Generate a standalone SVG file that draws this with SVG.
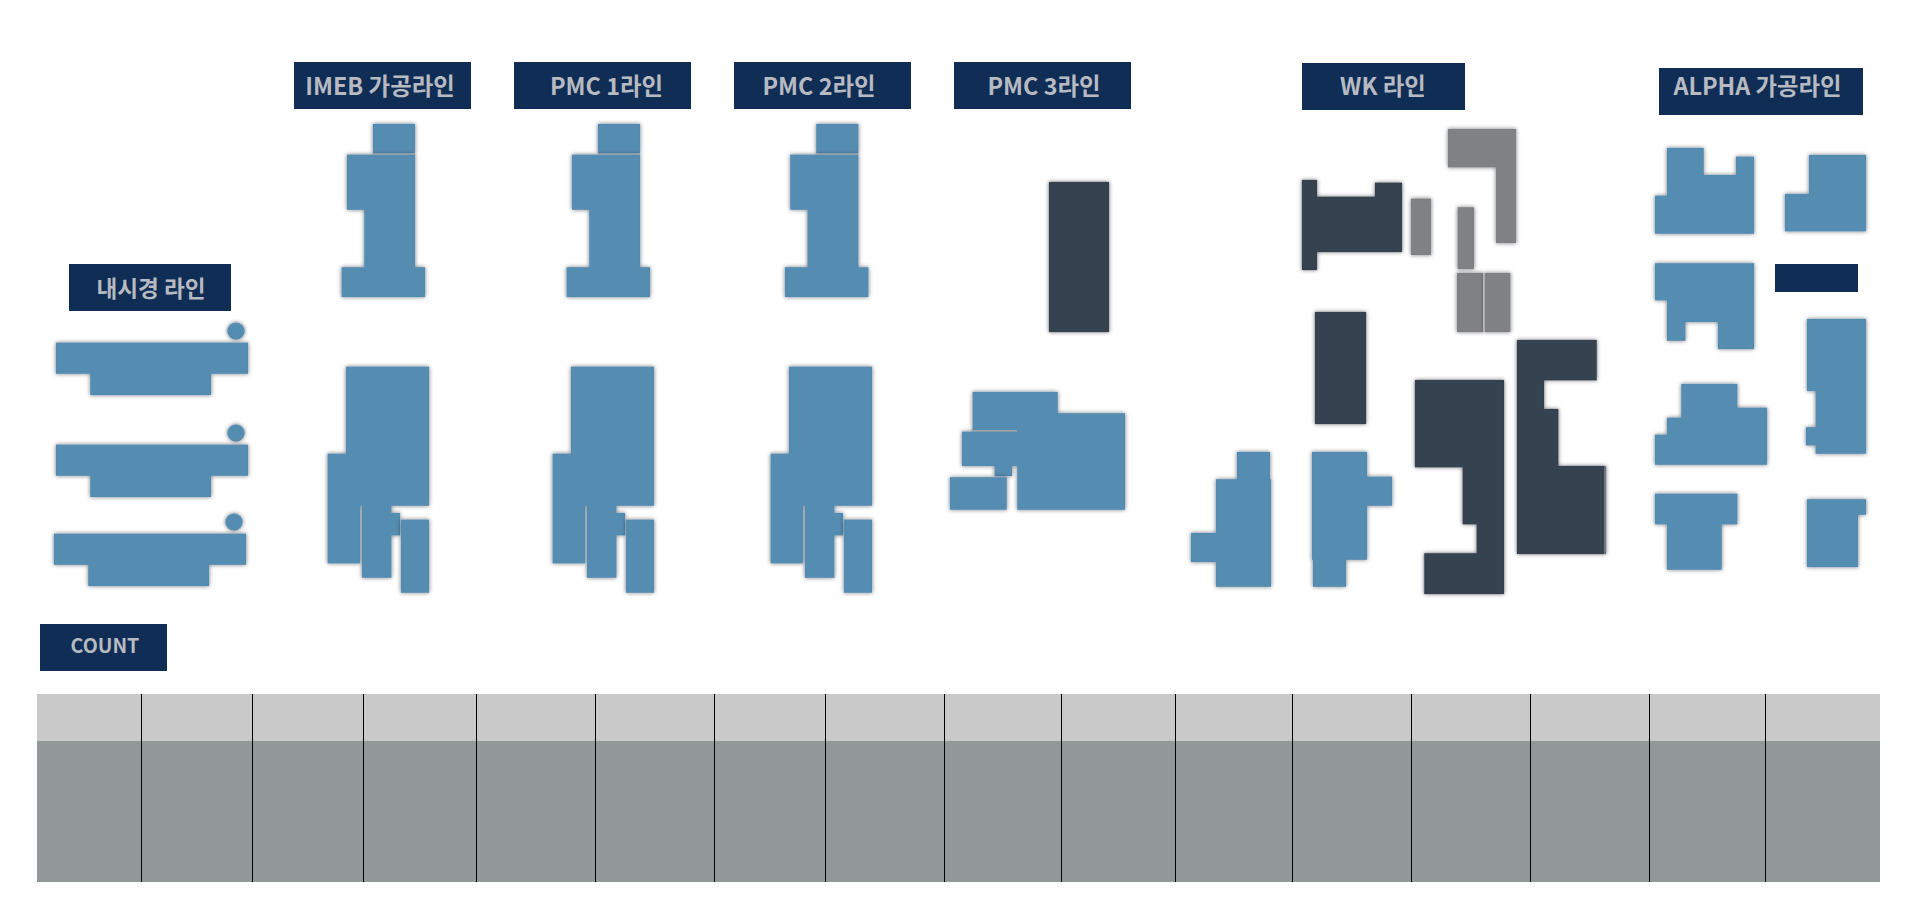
<svg xmlns="http://www.w3.org/2000/svg" width="1920" height="900" viewBox="0 0 1920 900">
<style>
.label{fill:#0f2d55}
.t{fill:#b7bbc1;font-family:"Noto Sans CJK KR","Noto Sans",sans-serif;font-weight:700;font-size:23.4px;text-anchor:middle}
.c{font-size:19.6px}
.n{font-size:22.6px}
.b{fill:#548cb1;stroke:#548cb1;stroke-width:.2;stroke-linejoin:round;filter:url(#s)}
.d{fill:#364250;stroke:#364250;stroke-width:.2;stroke-linejoin:round;filter:url(#s)}
.g{fill:#808183;stroke:#808183;stroke-width:.2;stroke-linejoin:round;filter:url(#s)}
.h{fill:#c9c9c9}
.m{fill:#929898}
.l{stroke:#000;stroke-width:1;fill:none}
</style>
<defs>
<filter id="s" x="-20%" y="-20%" width="140%" height="140%"><feDropShadow dx="0" dy="0" stdDeviation="2" flood-color="#000" flood-opacity="0.55"/></filter>
<g id="endo">
<circle class="b" cx="236" cy="331" r="8.6"/>
<polygon class="b" points="56,342.7 248,342.7 248,373.7 211,373.7 211,395 90.3,395 90.3,373.7 56,373.7"/>
</g>
<g id="upper">
<rect class="b" x="373" y="124" width="42" height="29.3"/>
<polygon class="b" points="347,154.7 415,154.7 415,267.3 425,267.3 425,297 341.7,297 341.7,267.3 364.3,267.3 364.3,209.7 347,209.7"/>
<rect x="373" y="153.3" width="42" height="1.4" fill="#94a0aa"/>
</g>
<g id="lower">
<polygon class="b" points="346,366.7 429,366.7 429,505.7 391.3,505.7 391.3,513 400,513 400,535.3 391.3,535.3 391.3,577.7 362,577.7 362,505.7 360,505.7 360,563.3 327.7,563.3 327.7,453.7 346,453.7"/>
<rect class="b" x="401" y="519.7" width="28" height="73"/>
</g>
</defs>
<rect width="1920" height="900" fill="#fff"/>
<g id="line-endo">
<rect class="label" x="69" y="264" width="162" height="47"/><text class="t n" x="151" y="297">내시경 라인</text>
<use href="#endo"/><use href="#endo" y="102"/><use href="#endo" x="-2" y="191"/>
</g>
<g id="line-imeb">
<rect class="label" x="294" y="62" width="177" height="47"/><text class="t" x="380" y="95">IMEB 가공라인</text>
<use href="#upper"/><use href="#lower"/>
</g>
<g id="line-pmc1">
<rect class="label" x="514" y="62" width="177" height="47"/><text class="t" x="606.5" y="95">PMC 1라인</text>
<use href="#upper" x="225"/><use href="#lower" x="225"/>
</g>
<g id="line-pmc2">
<rect class="label" x="734" y="62" width="177" height="47"/><text class="t" x="819" y="95">PMC 2라인</text>
<use href="#upper" x="443.3"/><use href="#lower" x="443"/>
</g>
<g id="line-pmc3">
<rect class="label" x="954" y="62" width="177" height="47"/><text class="t" x="1044" y="95">PMC 3라인</text>
<rect class="d" x="1049" y="182" width="60" height="150"/>
<polygon class="b" points="972.7,392 1057.7,392 1057.7,413.3 1125,413.3 1125,509.7 1017.3,509.7 1017.3,466 1012,466 1012,476 994.7,476 994.7,466 962,466 962,431.7 972.7,431.7"/>
<rect x="972.7" y="430" width="44.6" height="1.6" fill="#a3a5a8"/>
<rect class="b" x="950" y="477.3" width="56.7" height="32.4"/>
</g>
<g id="line-wk">
<rect class="label" x="1302" y="63" width="163" height="47"/><text class="t" x="1383" y="95">WK 라인</text>
<polygon class="d" points="1302,180 1317,180 1317,196.7 1375,196.7 1375,182.7 1402,182.7 1402,252 1317,252 1317,270 1302,270"/>
<rect class="g" x="1411" y="198.7" width="20" height="56.3"/>
<polygon class="g" points="1448,129 1516,129 1516,243 1496,243 1496,167.3 1448,167.3"/>
<rect class="g" x="1457.7" y="207.3" width="16.3" height="61.7"/>
<rect class="g" x="1457" y="273" width="26" height="59"/>
<rect class="g" x="1484.7" y="273" width="25.6" height="59"/>
<rect x="1483" y="273" width="1.7" height="59" fill="#b4b5b7"/>
<rect class="d" x="1315" y="312" width="51" height="112"/>
<polygon class="b" points="1237,452 1270,452 1270,479.3 1271,479.3 1271,586.7 1216,586.7 1216,562 1191,562 1191,533 1216,533 1216,479.3 1237,479.3"/>
<polygon class="b" points="1312,452 1367,452 1367,476.7 1392,476.7 1392,505.7 1367,505.7 1367,559.7 1346,559.7 1346,586.7 1313,586.7 1313,559.7 1312,559.7"/>
<polygon class="d" points="1415,380 1504,380 1504,594 1424.3,594 1424.3,553.3 1476.7,553.3 1476.7,524.3 1462.7,524.3 1462.7,467.3 1415,467.3"/>
<polygon class="d" points="1517,340 1596.7,340 1596.7,380.3 1544,380.3 1544,409 1558.3,409 1558.3,466 1606,466 1606,554 1517,554"/>
<rect x="1604.6" y="466" width="0.8" height="88" fill="#c4c7cb"/>
</g>
<g id="line-alpha">
<rect class="label" x="1659" y="68" width="204" height="47"/><text class="t" x="1757.5" y="95">ALPHA 가공라인</text>
<polygon class="b" points="1667,148 1703.7,148 1703.7,175 1736,175 1736,156.7 1754,156.7 1754,233.7 1655,233.7 1655,195.7 1667,195.7"/>
<polygon class="b" points="1809,155 1866,155 1866,231.3 1785,231.3 1785,194 1809,194"/>
<polygon class="b" points="1655,263.3 1754,263.3 1754,349 1718,349 1718,322 1685.3,322 1685.3,340.7 1667,340.7 1667,300.3 1655,300.3"/>
<rect class="label" x="1775" y="264" width="83" height="28"/>
<polygon class="b" points="1807,319 1866,319 1866,453.7 1815.7,453.7 1815.7,445.3 1806,445.3 1806,427.3 1815.7,427.3 1815.7,391 1807,391"/>
<polygon class="b" points="1681.3,384 1737.3,384 1737.3,407.7 1767,407.7 1767,464.7 1655,464.7 1655,434.7 1667,434.7 1667,417.7 1681.3,417.7"/>
<polygon class="b" points="1655,493.7 1737.3,493.7 1737.3,524.3 1721.7,524.3 1721.7,569.7 1667,569.7 1667,524.3 1655,524.3"/>
<polygon class="b" points="1807,499.3 1866,499.3 1866,514.7 1858,514.7 1858,567 1807,567"/>
</g>
<g id="count">
<rect class="label" x="40" y="624" width="127" height="47"/><text class="t c" x="105" y="653">COUNT</text>
<rect class="h" x="37" y="694" width="1843" height="47"/>
<rect class="m" x="37" y="741" width="1843" height="141"/>
</g>
<g id="connectors">
<path class="l" d="M141.5 694V882M252.5 694V882M363.5 694V882M476.5 694V882M595.5 694V882M714.5 694V882M825.5 694V882M944.5 694V882M1061.5 694V882M1175.5 694V882M1292.5 694V882M1411.5 694V882M1530.5 694V882M1649.5 694V882M1765.5 694V882"/>
</g>
</svg>
